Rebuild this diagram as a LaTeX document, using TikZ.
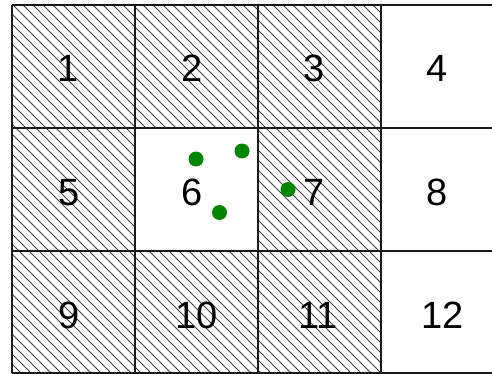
\documentclass[tikz,border=0pt]{standalone}
\usepackage{fontspec}
\setmainfont{Liberation Sans}
\definecolor{dotgreen}{RGB}{0,134,0}
\begin{document}
\begin{tikzpicture}[x=1pt,y=-1pt,
  gridline/.style={line width=1.7pt,draw=black!90},
  hatch/.style={line width=0.8pt,draw=black!75},
  lbl/.style={anchor=base,inner sep=0pt,font=\fontsize{38}{40}\selectfont},
  dot/.style={fill=dotgreen}]
\useasboundingbox (0,0) rectangle (492,374);
% hatching
\begin{scope}
  \clip (12,5) rectangle (381,128)
        (12,128) rectangle (135,373)
        (258,128) rectangle (381,373)
        (135,251) rectangle (258,373);
  \foreach \k in {-40,...,40} {
    \draw[hatch] ({8+10*\k},0) -- ++(400,400);
  }
\end{scope}
% grid
\foreach \y in {5,128,251,373} \draw[gridline] (12,\y) -- (492,\y);
\foreach \x in {12,135,258,381} \draw[gridline] (\x,5) -- (\x,373);
% labels
\node[lbl] (n1) at (68,82) {1};
\node[lbl] (n2) at (192,82) {2};
\node[lbl] (n3) at (314,82) {3};
\node[lbl] (n4) at (437,82) {4};
\node[lbl] (n5) at (69,205) {5};
\node[lbl] (n6) at (192,205) {6};
\node[lbl] (n7) at (314,205) {7};
\node[lbl] (n8) at (437,205) {8};
\node[lbl] (n9) at (69,328) {9};
\node[lbl] (n10) at (197,328) {10};
\node[lbl] (n11) at (318,328) {11};
\node[lbl] (n12) at (442.5,328) {12};
% dots
\fill[dot] (196,159) circle (7.5);
\fill[dot] (242,151) circle (7.5);
\fill[dot] (219.5,212.5) circle (7.5);
\fill[dot] (288,189.5) circle (7.5);
\end{tikzpicture}
\end{document}
